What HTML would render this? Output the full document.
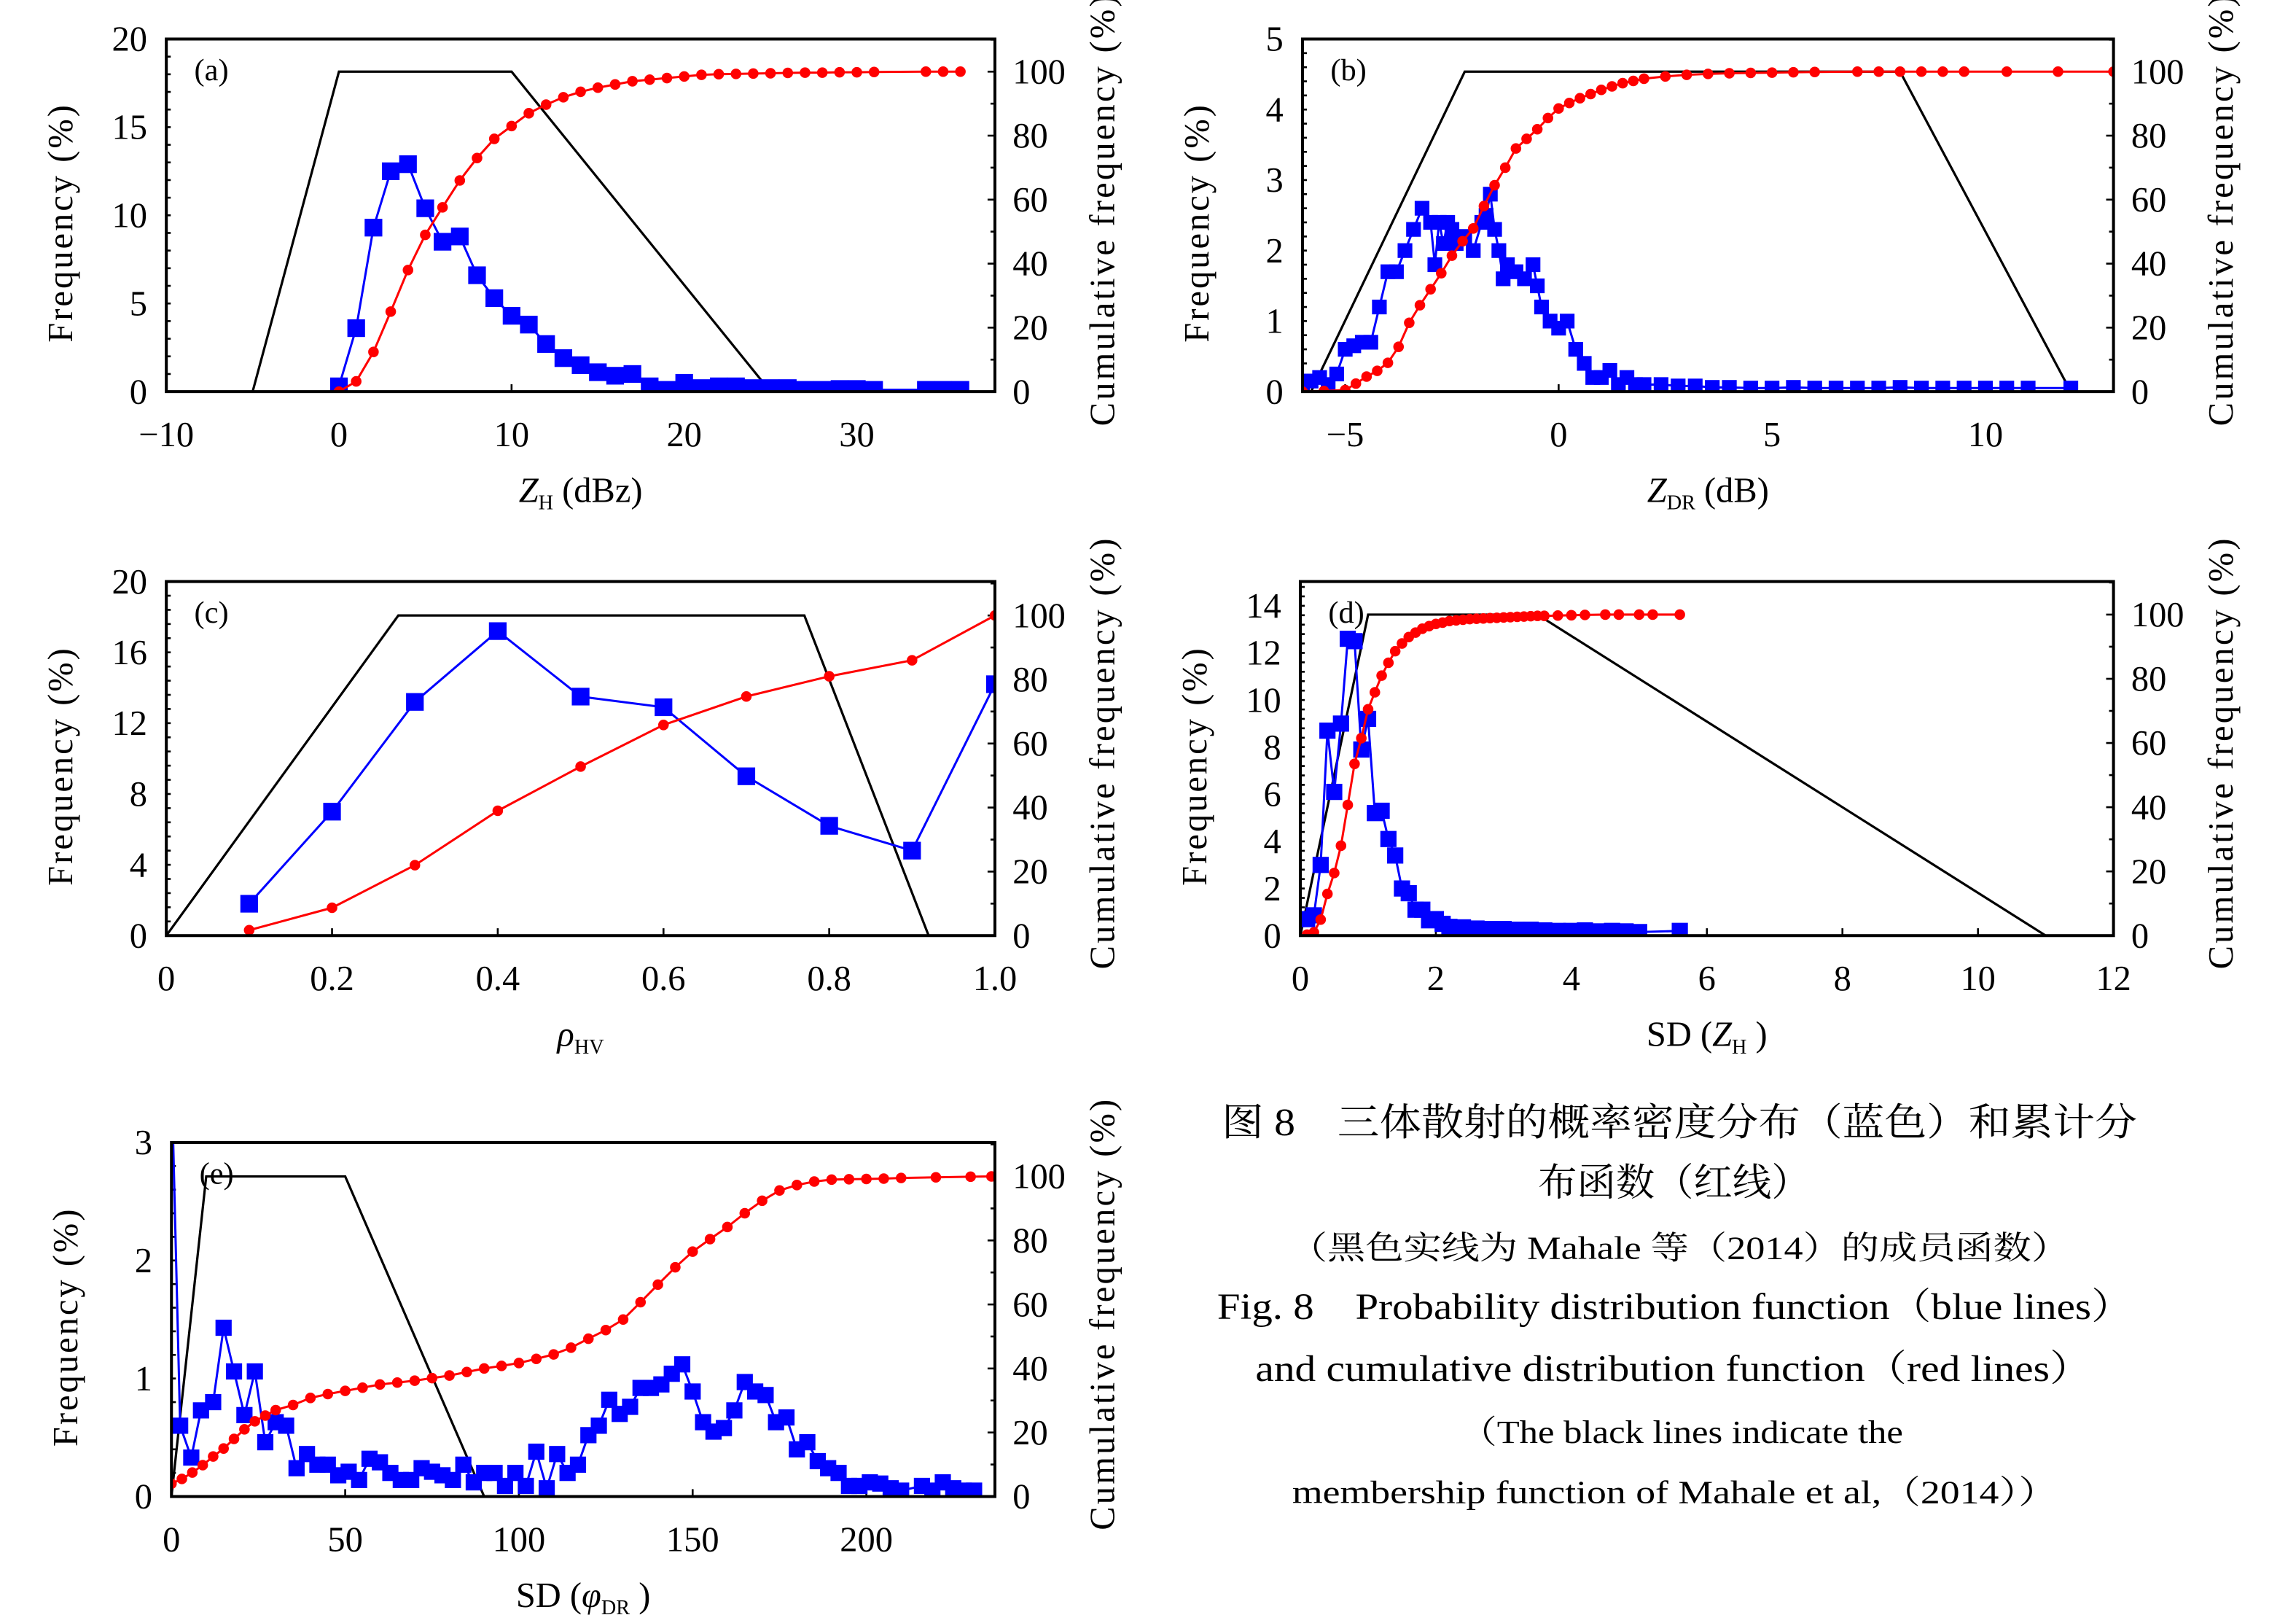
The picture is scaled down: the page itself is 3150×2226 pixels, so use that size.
<!DOCTYPE html>
<html><head><meta charset="utf-8"><style>
html,body{margin:0;padding:0;background:#fff;}
svg{display:block;}
text{font-family:"Liberation Serif","Times New Roman","Noto Serif CJK SC",serif;fill:#000;}
</style></head><body>
<svg id="fig" width="3150" height="2226" viewBox="0 0 1560 1102.4" xmlns="http://www.w3.org/2000/svg">
<g id="caption">
<text x="830" y="771" font-size="26" textLength="622" lengthAdjust="spacingAndGlyphs">图 8　三体散射的概率密度分布（蓝色）和累计分</text>
<text x="1045" y="812" font-size="26" textLength="185" lengthAdjust="spacingAndGlyphs">布函数（红线）</text>
<text x="876" y="855" font-size="22" textLength="530" lengthAdjust="spacingAndGlyphs">（黑色实线为 Mahale 等（2014）的成员函数）</text>
<text x="827" y="896" font-size="25" textLength="622" lengthAdjust="spacingAndGlyphs">Fig. 8　Probability distribution function（blue lines）</text>
<text x="853" y="938" font-size="25" textLength="568" lengthAdjust="spacingAndGlyphs">and cumulative distribution function（red lines）</text>
<text x="992" y="980" font-size="22" textLength="301" lengthAdjust="spacingAndGlyphs">（The black lines indicate the</text>
<text x="878" y="1021" font-size="22" textLength="520" lengthAdjust="spacingAndGlyphs">membership function of Mahale et al,（2014））</text>
</g>
</svg>
<script>
// ---- Panel (a) data ----
const aBlueX = [0,1,2,3,4,5,6,7,8,9,10,11,12,13,14,15,16,17,18,19,20,21,22,23,24,25,26,27,28,29,30,31,34,35,36];
const aBlueY = [0.3,3.6,9.3,12.5,12.9,10.4,8.5,8.8,6.6,5.3,4.3,3.8,2.7,1.9,1.5,1.1,0.9,1.0,0.3,0.1,0.5,0.2,0.3,0.3,0.2,0.2,0.2,0.1,0.1,0.15,0.15,0.1,0.1,0.1,0.1];
const aRedX = [0,1,2,3,4,5,6,7,8,9,10,11,12,13,14,15,16,17,18,19,20,21,22,23,24,25,26,27,28,29,30,31,34,35,36];
const aRedY = [0,3.2,12.4,25,38,49,57.6,66,73,79,83,87,89.7,92,93.7,95,96,97,97.5,98,98.5,99,99.2,99.3,99.4,99.5,99.6,99.7,99.7,99.8,99.8,99.9,100,100,100];
const aMfX = [-10,-5,0,10,25,38];
const aMfY = [0,0,100,100,0,0];
// ---- Panel (b) data ----
const bBlueX = [-6,-5.8,-5.6,-5.4,-5.2,-5,-4.8,-4.6,-4.4,-4.2,-4,-3.8,-3.6,-3.4,-3.2,-3,-2.9,-2.8,-2.7,-2.6,-2.5,-2.4,-2.2,-2,-1.8,-1.7,-1.6,-1.5,-1.4,-1.3,-1.2,-1,-0.8,-0.6,-0.5,-0.4,-0.2,0,0.2,0.4,0.6,0.8,1,1.2,1.4,1.6,1.8,2,2.4,2.8,3.2,3.6,4,4.5,5,5.5,6,6.5,7,7.5,8,8.5,9,9.5,10,10.5,11,12];
const bBlueY = [0.1,0.15,0.2,0.1,0.25,0.6,0.65,0.7,0.7,1.2,1.7,1.7,2.0,2.3,2.6,2.4,1.8,2.4,2.1,2.4,2.3,2.1,2.2,2.0,2.4,2.5,2.8,2.3,2.0,1.6,1.8,1.7,1.6,1.8,1.5,1.2,1.0,0.9,1.0,0.6,0.4,0.2,0.2,0.3,0.1,0.2,0.1,0.1,0.1,0.08,0.08,0.06,0.06,0.05,0.05,0.06,0.05,0.05,0.05,0.05,0.06,0.05,0.05,0.05,0.05,0.05,0.05,0.05];
const bRedX = [-6,-5.5,-5,-4.75,-4.5,-4.25,-4,-3.75,-3.5,-3.25,-3,-2.75,-2.5,-2.25,-2,-1.75,-1.5,-1.25,-1,-0.75,-0.5,-0.25,0,0.25,0.5,0.75,1,1.25,1.5,1.75,2,2.5,3,3.5,4,4.5,5,5.5,6,7,7.5,8,8.5,9,9.5,10.5,11.7,13];
const bRedY = [0,0.2,0.5,2.5,4.7,6.5,9,14,21.5,27,32,37,42.5,47,51,58,64.5,70,76,79,82,85.5,88.5,90.2,91.7,93,94.3,95.4,96.4,97.1,97.8,98.5,99,99.3,99.5,99.6,99.7,99.8,99.9,100,100,100,100,100,100,100,100,100];
const bMfX = [-6,-5.8,-2.2,8,12,13];
const bMfY = [0,0,100,100,0,0];
// ---- Panel (c) data ----
const cBlueX = [0.1,0.2,0.3,0.4,0.5,0.6,0.7,0.8,0.9,1.0];
const cBlueY = [1.8,7.0,13.2,17.2,13.5,12.9,9.0,6.2,4.8,14.2];
const cRedX = [0.1,0.2,0.3,0.4,0.5,0.6,0.7,0.8,0.9,1.0];
const cRedY = [1.7,8.7,22,39,52.8,65.8,74.7,81,86,100];
const cMfX = [0,0.28,0.77,0.92,1.0];
const cMfY = [0,100,100,0,0];
// ---- Panel (d) data ----
const dBlueX = [0.1,0.2,0.3,0.4,0.5,0.6,0.7,0.8,0.9,1.0,1.1,1.2,1.3,1.4,1.5,1.6,1.7,1.8,1.9,2.0,2.1,2.2,2.4,2.6,2.8,3.0,3.2,3.4,3.6,3.8,4.0,4.2,4.4,4.6,4.8,5.0,5.6];
const dBlueY = [0.7,0.86,3.0,8.7,6.1,9.0,12.6,12.5,7.9,9.2,5.2,5.3,4.1,3.4,2.0,1.8,1.1,1.1,0.65,0.7,0.5,0.37,0.35,0.3,0.28,0.28,0.25,0.25,0.22,0.2,0.2,0.22,0.18,0.2,0.18,0.15,0.2];
const dRedX = [0.1,0.2,0.3,0.4,0.5,0.6,0.7,0.8,0.9,1.0,1.1,1.2,1.3,1.4,1.5,1.6,1.7,1.8,1.9,2.0,2.1,2.2,2.3,2.4,2.5,2.6,2.7,2.8,2.9,3.0,3.1,3.2,3.3,3.4,3.5,3.6,3.8,4.0,4.2,4.5,4.7,5.0,5.2,5.6];
const dRedY = [0.3,1,5,13,19.5,28,40.7,53.5,61.5,70.5,75.8,81,85,88.6,91,93,94.4,95.6,96.4,97.1,97.5,98,98.2,98.4,98.6,98.7,98.8,98.9,99,99.1,99.2,99.3,99.4,99.5,99.6,99.6,99.7,99.8,99.9,100,100,100,100,100];
const dMfX = [0,1,3.5,11,12];
const dMfY = [0,100,100,0,0];
// ---- Panel (e) data ----
const eBlueX = [0,2.5,5.7,8.5,12,15,18,21,24,27,30,33,36,39,42,45,48,51,54,57,60,63,66,69,72,75,78,81,84,87,90,93,96,99,102,105,108,111,114,117,120,123,126,129,132,135,138,141,144,147,150,153,156,159,162,165,168,171,174,177,180,183,186,189,192,195,198,201,204,207,210,216,219,222,225,228,231];
const eBlueY = [3.6,0.6,0.33,0.73,0.8,1.43,1.06,0.69,1.06,0.46,0.63,0.6,0.24,0.36,0.27,0.27,0.18,0.21,0.14,0.32,0.29,0.2,0.14,0.14,0.24,0.21,0.18,0.14,0.27,0.12,0.2,0.2,0.09,0.2,0.09,0.38,0.07,0.36,0.2,0.27,0.52,0.6,0.82,0.7,0.76,0.92,0.92,0.95,1.04,1.12,0.89,0.63,0.55,0.58,0.73,0.97,0.89,0.86,0.63,0.67,0.4,0.46,0.3,0.24,0.2,0.09,0.09,0.12,0.11,0.07,0.05,0.09,0.05,0.12,0.07,0.05,0.05];
const eRedX = [0,3,6,9,12,15,18,21,24,27,30,35,40,45,50,55,60,65,70,75,80,85,90,95,100,105,110,115,120,125,130,135,140,145,150,155,160,165,170,175,180,185,190,195,200,205,210,220,230,236];
const eRedY = [4,5.5,7.5,9.8,12.5,15,18,21,23.5,25.3,27,28.6,30.8,32,33,34,35,35.6,36.2,37,37.8,38.9,40,40.8,41.7,43,44.4,46.5,49.3,52,55.3,60.7,66.2,71.6,76.5,80.4,84.2,88.5,92.4,95.6,97.3,98.4,99,99.1,99.2,99.3,99.5,99.7,99.9,100];
const eMfX = [0,10,50,90,237];
const eMfY = [0,100,100,0,0];

const NS = 'http://www.w3.org/2000/svg';
const svg = document.getElementById('fig');
function mk(tag, attrs, parent){ const e=document.createElementNS(NS,tag); for(const k in attrs) e.setAttribute(k,attrs[k]); (parent||svg).appendChild(e); return e; }

function panel(p){
  const g = mk('g',{});
  
  
  const sx = v => p.L + (v - p.x0)/(p.x1 - p.x0)*(p.R - p.L);
  const syL = v => p.B - v/p.yL*(p.B - p.T);
  const syR = v => p.B - v/p.yR*(p.B - p.T);
  const cid = 'clip-'+p.id;
  const cp = mk('clipPath',{id:cid}, g);
  mk('rect',{x:p.L,y:p.T,width:p.R-p.L,height:p.B-p.T}, cp);
  const tg = mk('g',{stroke:'#000','stroke-width':1.3}, g);
  
  
  for(let v=0; v<=p.yL+1e-9; v+=p.lMinor){ const y=syL(v); mk('line',{x1:p.L,x2:p.L+3,y1:y,y2:y},tg); }
  for(let v=0; v<=p.yR+1e-9; v+=10){ const y=syR(v); const maj = Math.round(v)%20===0; mk('line',{x1:p.R,x2:p.R-(maj?5:3),y1:y,y2:y},tg); }
  p.xTicks.forEach(v=>{ const x=sx(v); mk('line',{x1:x,x2:x,y1:p.B,y2:p.B-5},tg); });
  p.lTicks.forEach(v=>{
    const t=mk('text',{x:p.L-13,y:syL(v)+8,'font-size':24,'text-anchor':'end'},g);
    t.textContent=String(v);
    
    
  });
  [0,20,40,60,80,100].forEach(v=>{
    const t=mk('text',{x:p.R+12,y:syR(v)+8,'font-size':24},g);
    t.textContent=String(v);
    
    
  });
  p.xTicks.forEach((v,i)=>{
    const t=mk('text',{x:sx(v),y:p.B+37,'font-size':24,'text-anchor':'middle'},g);
    t.textContent=p.xLabels[i];
    
    
  });
  const sg = mk('g',{'clip-path':'url(#'+cid+')'}, g);
  const mf = mk('polyline',{points:p.mfX.map((x,i)=>sx(x)+','+syR(p.mfY[i])).join(' '),fill:'none',stroke:'#000','stroke-width':1.6},sg);
  
  
  const bl = mk('polyline',{points:p.bx.map((x,i)=>sx(x)+','+syL(p.by[i])).join(' '),fill:'none',stroke:'#0000ff','stroke-width':1.5},sg);
  
  
  p.bx.forEach((x,i)=>{
    const s=p.sq;
    const r=mk('rect',{x:sx(x)-s/2,y:syL(p.by[i])-s/2,width:s,height:s,fill:'#0000ff'},sg);
    
    
  });
  const rl = mk('polyline',{points:p.rx.map((x,i)=>sx(x)+','+syR(p.ry[i])).join(' '),fill:'none',stroke:'#ff0000','stroke-width':1.5},sg);
  
  
  p.rx.forEach((x,i)=>{
    const c=mk('circle',{cx:sx(x),cy:syR(p.ry[i]),r:3.6,fill:'#ff0000'},sg);
    
    
  });
  const fr = mk('rect',{x:p.L,y:p.T,width:p.R-p.L,height:p.B-p.T,fill:'none',stroke:'#000','stroke-width':2},g);
  
  
  const pl = mk('text',{x:p.L+19,y:p.T+28,'font-size':21},g);
  pl.textContent='('+p.id+')';
  
  
  const yl = mk('text',{x:0,y:0,'font-size':24,'letter-spacing':1.5,'text-anchor':'middle',transform:'translate('+(p.L-64)+','+((p.T+p.B)/2+5)+') rotate(-90)'},g);
  yl.textContent='Frequency (%)';
  
  
  const yr = mk('text',{x:0,y:0,'font-size':24,'letter-spacing':1.6,'text-anchor':'middle',transform:'translate('+(p.R+81)+','+((p.T+p.B)/2-4)+') rotate(-90)'},g);
  yr.textContent='Cumulative frequency (%)';
  
  
  const xt = mk('text',{x:(p.L+p.R)/2,y:p.B+75,'font-size':24,'text-anchor':'middle'},g);
  xt.innerHTML = p.xTitle;
  
  
}

panel({id:'a',L:113,R:676,T:26.5,B:266,x0:-10,x1:38,yL:20,yR:110.2,lMinor:1,lTicks:[0,5,10,15,20],
  xTicks:[-10,0,10,20,30],xLabels:['\u221210','0','10','20','30'],sq:12,
  bx:aBlueX,by:aBlueY,rx:aRedX,ry:aRedY,mfX:aMfX,mfY:aMfY,
  xTitle:'<tspan font-style="italic">Z</tspan><tspan font-size="14" dy="5">H</tspan><tspan dy="-5"> (dBz)</tspan>'});
panel({id:'b',L:885,R:1436,T:26.5,B:266,x0:-6,x1:13,yL:5,yR:110.2,lMinor:0.2,lTicks:[0,1,2,3,4,5],
  xTicks:[-5,0,5,10],xLabels:['\u22125','0','5','10'],sq:10,
  bx:bBlueX,by:bBlueY,rx:bRedX,ry:bRedY,mfX:bMfX,mfY:bMfY,
  xTitle:'<tspan font-style="italic">Z</tspan><tspan font-size="14" dy="5">DR</tspan><tspan dy="-5"> (dB)</tspan>'});
panel({id:'c',L:113,R:676,T:395,B:635.5,x0:0,x1:1,yL:20,yR:110.6,lMinor:0.8,lTicks:[0,4,8,12,16,20],
  xTicks:[0,0.2,0.4,0.6,0.8,1.0],xLabels:['0','0.2','0.4','0.6','0.8','1.0'],sq:12,
  bx:cBlueX,by:cBlueY,rx:cRedX,ry:cRedY,mfX:cMfX,mfY:cMfY,
  xTitle:'<tspan font-style="italic">\u03C1</tspan><tspan font-size="14" dy="5">HV</tspan>'});
panel({id:'d',L:883.5,R:1436,T:395,B:635.5,x0:0,x1:12,yL:15.03,yR:110.3,lMinor:0.4,lTicks:[0,2,4,6,8,10,12,14],
  xTicks:[0,2,4,6,8,10,12],xLabels:['0','2','4','6','8','10','12'],sq:11,
  bx:dBlueX,by:dBlueY,rx:dRedX,ry:dRedY,mfX:dMfX,mfY:dMfY,
  xTitle:'SD (<tspan font-style="italic">Z</tspan><tspan font-size="14" dy="5">H</tspan><tspan dy="-5"> )</tspan>'});
panel({id:'e',L:116.5,R:676,T:776,B:1016.5,x0:0,x1:237,yL:3,yR:110.6,lMinor:0.2,lTicks:[0,1,2,3],
  xTicks:[0,50,100,150,200],xLabels:['0','50','100','150','200'],sq:11,
  bx:eBlueX,by:eBlueY,rx:eRedX,ry:eRedY,mfX:eMfX,mfY:eMfY,
  xTitle:'SD (<tspan font-style="italic">\u03C6</tspan><tspan font-size="14" dy="5">DR</tspan><tspan dy="-5"> )</tspan>'});
</script>
</body></html>
